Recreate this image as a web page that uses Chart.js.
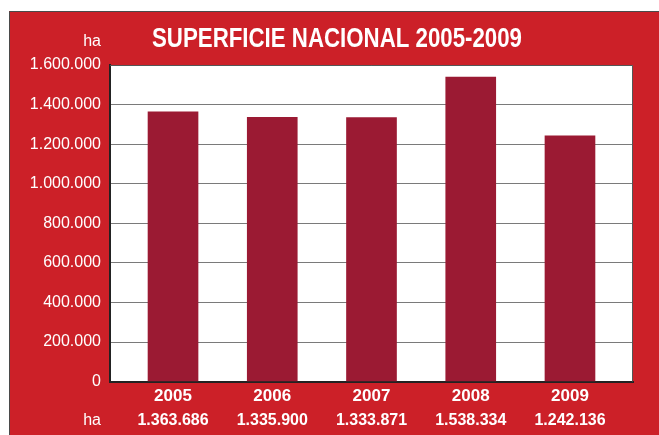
<!DOCTYPE html>
<html>
<head>
<meta charset="utf-8">
<script src="https://cdn.jsdelivr.net/npm/chart.js@4/dist/chart.umd.min.js"></script>
<style>
  html, body { margin: 0; padding: 0; background: #fff; }
  #wrap { width: 659px; height: 435px; position: relative; }
</style>
</head>
<body>
<div id="wrap"><canvas id="superficie-chart"></canvas></div>
<script>
// superficie nacional, hectareas por año
const years = [2005, 2006, 2007, 2008, 2009];
const hectares = [1363686, 1335900, 1333871, 1538334, 1242136];
const yTicks = [0, 200000, 400000, 600000, 800000, 1000000, 1200000, 1400000, 1600000];
const titleText = 'SUPERFICIE NACIONAL 2005-2009';

const RED = '#cc2028';
const BAR = '#9b1a33';

const fmt = v => String(v).replace(/\B(?=(\d{3})+(?!\d))/g, '.');

// red panel + white plot box behind everything, title and bottom labels on top
const panelPlugin = {
  id: 'panel',
  beforeDraw(chart) {
    const { ctx, chartArea: a } = chart;
    ctx.save();
    ctx.fillStyle = '#fff';
    ctx.fillRect(0, 0, chart.width, chart.height);
    ctx.fillStyle = RED;
    ctx.fillRect(9, 11, chart.width - 9, chart.height - 11);
    ctx.strokeStyle = '#4a4a4a';
    ctx.lineWidth = 1;
    ctx.beginPath();
    ctx.moveTo(9.5, chart.height);
    ctx.lineTo(9.5, 11.5);
    ctx.lineTo(chart.width, 11.5);
    ctx.stroke();
    ctx.fillStyle = '#fff';
    ctx.fillRect(a.left, a.top, a.right - a.left, a.bottom - a.top);
    ctx.restore();
  },
  afterDatasetsDraw(chart) {
    const { ctx, chartArea: a } = chart;
    ctx.save();
    ctx.strokeStyle = '#555';
    ctx.lineWidth = 1;
    ctx.beginPath();
    ctx.moveTo(a.left, a.top + 0.5);
    ctx.lineTo(a.right - 0.5, a.top + 0.5);
    ctx.lineTo(a.right - 0.5, a.bottom);
    ctx.stroke();
    ctx.restore();
  },
  afterDraw(chart) {
    const { ctx } = chart;
    const x = chart.scales.x;
    ctx.save();
    ctx.fillStyle = '#fff';
    ctx.textBaseline = 'middle';
    ctx.font = '16px "Liberation Sans", Arial, sans-serif';
    ctx.textAlign = 'right';
    ctx.fillText('ha', 101, 42);
    ctx.fillText('ha', 101, 421);
    ctx.font = 'bold 16px "Liberation Sans", Arial, sans-serif';
    ctx.textAlign = 'center';
    years.forEach((yr, i) => {
      ctx.fillText(fmt(hectares[i]), x.getPixelForValue(yr), 421);
    });

    // condensed title: squeeze a bold sans to the narrow width of the original
    ctx.font = 'bold 27px "Liberation Sans", Arial, sans-serif';
    ctx.textAlign = 'left';
    ctx.textBaseline = 'alphabetic';
    const w = ctx.measureText(titleText).width;
    const sx = 370 / w;
    ctx.translate(152, 47);
    ctx.scale(sx, 1);
    ctx.fillText(titleText, 0, 0);
    ctx.restore();
  }
};

new Chart(document.getElementById('superficie-chart'), {
  type: 'bar',
  data: {
    datasets: [{
      label: 'ha',
      data: years.map((yr, i) => ({ x: yr, y: hectares[i] })),
      backgroundColor: BAR,
      barThickness: 50
    }]
  },
  options: {
    responsive: true,
    maintainAspectRatio: false,
    animation: false,
    layout: { padding: { left: 15, right: 26, top: 65, bottom: 23 } },
    plugins: {
      legend: { display: false },
      tooltip: { enabled: false },
      title: { display: false }
    },
    scales: {
      x: {
        type: 'linear',
        offset: false,
        min: 2004.365,
        max: 2009.635,
        afterBuildTicks: s => { s.ticks = years.map(v => ({ value: v })); },
        grid: { display: false, drawTicks: false, offset: false },
        border: { display: true, color: '#222', width: 2 },
        ticks: {
          color: '#fff',
          padding: 5,
          font: { family: '"Liberation Sans", Arial, sans-serif', size: 17, weight: 'bold', lineHeight: 1.2 },
          callback: v => String(v)
        }
      },
      y: {
        min: 0,
        max: 1600000,
        afterBuildTicks: s => { s.ticks = yTicks.map(v => ({ value: v })); },
        afterFit: s => { s.width = 95; },
        grid: { color: '#7a7a7a', lineWidth: 1, drawTicks: false },
        border: { display: true, color: '#222', width: 2 },
        ticks: {
          color: '#fff',
          padding: 9,
          font: { family: '"Liberation Sans", Arial, sans-serif', size: 16 },
          callback: v => fmt(v)
        }
      }
    }
  },
  plugins: [panelPlugin]
});
</script>
</body>
</html>
